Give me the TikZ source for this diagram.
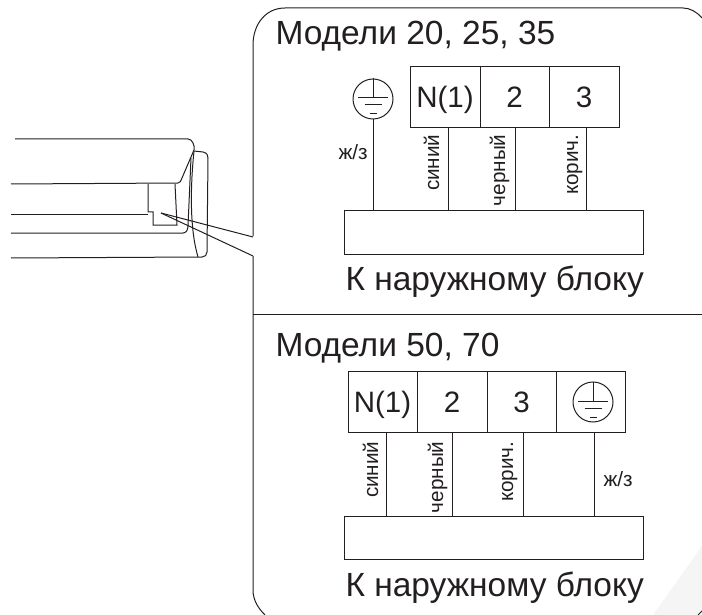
\documentclass[tikz,border=0pt]{standalone}
\usepackage{fontspec}
\setmainfont{Liberation Sans}
\usepackage{xcolor}
\definecolor{inkdark}{HTML}{231F20}
\definecolor{cornerfill}{HTML}{F5F5F5}
\tikzset{
	terminal/.style={draw, rectangle, inner sep=0, minimum width=#1, minimum height=61pt,
		font=\fontsize{29.5}{32}\selectfont, text height=21pt, text depth=0pt},
	bigtext/.style={inner sep=0, anchor=base west, font=\fontsize{33.5}{36}\selectfont},
	smalltext/.style={inner sep=0, font=\fontsize{20.7}{22}\selectfont},
	sidelabel/.style={smalltext, rotate=90, anchor=base east},
	outblock/.style={draw, rectangle, inner sep=0, minimum width=299pt, minimum height=43pt},
	earthcircle/.style={draw, circle, inner sep=0, minimum size=40pt}
}
\newcommand{\earth}[2]{
	\node[earthcircle] (#1) at (#2) {};
	\draw (#1.north) -- ++(0,19);
	\draw ([shift={(-15,-1)}]#1.center) -- ++(30,0);
	\draw ([shift={(-8.5,6)}]#1.center) -- ++(17,0);
	\draw ([shift={(-3.5,15)}]#1.center) -- ++(7,0);
}
\begin{document}
\begin{tikzpicture}[x=1pt, y=-1pt, line width=1pt, color=inkdark]
	\useasboundingbox (0,0) rectangle (702,615);
	\fill[cornerfill] (702,546) -- (653,615) -- (702,615) -- cycle;

	% indoor unit
	\draw (15,139) -- (188,139) .. controls (192,139) and (195,145) .. (194,150)
		-- (182,178) .. controls (181,181) and (180,183) .. (178,183) -- (11,184);
	\draw (194,151) -- (203,152) .. controls (207,153) and (208,155) .. (208,158)
		-- (207,252) .. controls (207,255) and (205,257) .. (202,257) -- (11,258);
	\draw (194,151) .. controls (190,190) and (190,230) .. (198,257);
	\draw (191,158) -- (188,226) .. controls (188,230) and (186,233) .. (183,233) -- (11,233);
	\draw (11,215) -- (148,215);
	\draw (148,184) -- (148,212) -- (153,212) -- (153,225) -- (177,225) -- (175,184);

	% panel
	\draw (253,236) -- (253,45) .. controls (253,25) and (265,8) .. (285,8)
		-- (683,8) .. controls (690,8) and (697,12) .. (702,18);
	\draw (253,256) -- (253,590) .. controls (253,600) and (258,608) .. (265,615);
	\draw (698,615) -- (702,611);
	\draw (253,314) -- (702,314);

	% leaders
	\coordinate (lead_o) at (161,213);
	\coordinate (lead_a) at (253,237);
	\coordinate (lead_b) at (253,256);
	\draw (lead_o) -- (lead_a);
	\draw (lead_o) -- (lead_b);

	% upper models
	\node[bigtext] (title_a) at (275,45) {Модели 20, 25, 35};
	\earth{pe_a}{373,99}
	\node[terminal=70pt] (t_n) at (445,97.5) {N(1)};
	\node[terminal=69pt] (t_2) at (514.5,97.5) {2};
	\node[terminal=70pt] (t_3) at (584,97.5) {3};
	\node[outblock] (block_a) at (493.5,232.5) {};
	\node[bigtext] (out_a) at (345,290) {К наружному блоку};

	\coordinate (w_0) at (373,211);
	\coordinate (w_1) at (448,128);
	\coordinate (b_1) at (448,211);
	\coordinate (w_2) at (515,128);
	\coordinate (b_2) at (515,211);
	\coordinate (w_3) at (586,128);
	\coordinate (b_3) at (586,211);
	\draw (pe_a.south) -- (w_0);
	\draw (w_1) -- (b_1);
	\draw (w_2) -- (b_2);
	\draw (w_3) -- (b_3);

	\node[smalltext, anchor=base west] (l_pe_a) at (338,160) {ж/з};
	\node[sidelabel] (l_1) at (439,134) {синий};
	\node[sidelabel] (l_2) at (505,134) {черный};
	\node[sidelabel] (l_3) at (578,134) {корич.};

	% lower models
	\node[bigtext] (title_b) at (275,356) {Модели 50, 70};
	\node[terminal=69pt] (s_n) at (382.5,402) {N(1)};
	\node[terminal=70pt] (s_2) at (452,402) {2};
	\node[terminal=69pt] (s_3) at (521.5,402) {3};
	\node[terminal=69pt] (s_e) at (590.5,402) {};
	\earth{pe_b}{593,402}
	\node[outblock] (block_b) at (493.5,537.5) {};
	\node[bigtext] (out_b) at (345,596) {К наружному блоку};

	\coordinate (x_1) at (386,433);
	\coordinate (y_1) at (386,516);
	\coordinate (x_2) at (452,433);
	\coordinate (y_2) at (452,516);
	\coordinate (x_3) at (523,433);
	\coordinate (y_3) at (523,516);
	\coordinate (x_4) at (594,433);
	\coordinate (y_4) at (594,516);
	\draw (x_1) -- (y_1);
	\draw (x_2) -- (y_2);
	\draw (x_3) -- (y_3);
	\draw (x_4) -- (y_4);

	\node[smalltext, anchor=base west] (l_pe_b) at (603,486) {ж/з};
	\node[sidelabel] (m_1) at (378,441) {синий};
	\node[sidelabel] (m_2) at (443,441) {черный};
	\node[sidelabel] (m_3) at (513,441) {корич.};
\end{tikzpicture}
\end{document}
